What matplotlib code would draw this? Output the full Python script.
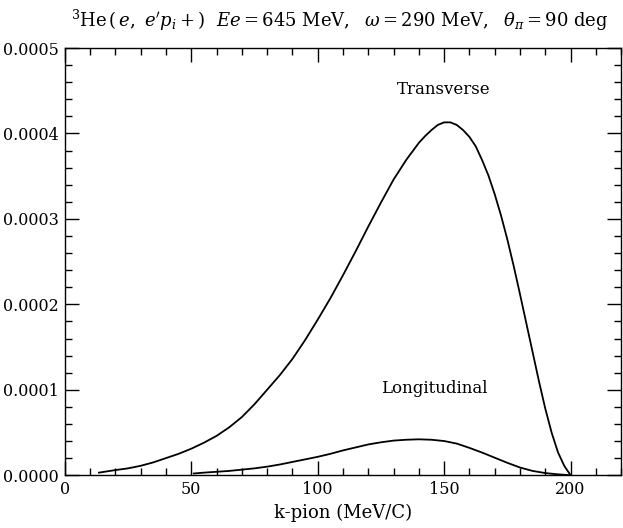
import matplotlib
matplotlib.use("Agg")
import matplotlib.pyplot as plt
from matplotlib.ticker import MultipleLocator, FormatStrFormatter

plt.rcParams['font.family'] = ['DejaVu Serif']
plt.rcParams['mathtext.fontset'] = 'dejavuserif'

# Transverse response (k-pion in MeV/c, value in units of 1e-4)
trans_k = [13.5, 20, 25, 30, 35, 40, 45, 50, 55, 60, 65, 70, 75, 80, 85, 90, 95,
           100, 105, 110, 115, 120, 125, 130, 135, 140, 142.5, 145, 147.5, 150,
           152.5, 155, 157.5, 160, 162.5, 165, 167.5, 170, 172.5, 175, 177.5,
           180, 182.5, 185, 187.5, 190, 192.5, 195, 197.5, 200]
trans_v = [0.03, 0.06, 0.08, 0.11, 0.15, 0.20, 0.25, 0.31, 0.38, 0.46, 0.56,
           0.68, 0.83, 1.00, 1.17, 1.36, 1.58, 1.82, 2.07, 2.34, 2.62, 2.91,
           3.19, 3.46, 3.69, 3.89, 3.97, 4.04, 4.10, 4.13, 4.13, 4.10, 4.04,
           3.96, 3.85, 3.69, 3.51, 3.29, 3.04, 2.76, 2.45, 2.12, 1.78, 1.44,
           1.10, 0.78, 0.50, 0.27, 0.11, 0.0]

# Longitudinal response (units of 1e-4)
long_k = [51, 55, 60, 65, 70, 75, 80, 85, 90, 95, 100, 105, 110, 115, 120, 125,
          130, 135, 140, 145, 150, 155, 160, 165, 170, 175, 180, 185, 190, 195, 200]
long_v = [0.02, 0.03, 0.04, 0.05, 0.065, 0.08, 0.10, 0.125, 0.155, 0.185, 0.215,
          0.25, 0.29, 0.325, 0.36, 0.385, 0.405, 0.415, 0.42, 0.415, 0.40, 0.37,
          0.32, 0.265, 0.205, 0.145, 0.09, 0.05, 0.025, 0.01, 0.0]

scale = 1e-4

fig = plt.figure(figsize=(6.23, 5.28), dpi=100)
ax = fig.add_axes([0.104, 0.100, 0.893, 0.809])

ax.plot(trans_k, [v * scale for v in trans_v], color='black', lw=1.3)
ax.plot(long_k, [v * scale for v in long_v], color='black', lw=1.3)

ax.set_xlim(0, 220)
ax.set_ylim(0, 0.0005)

ax.xaxis.set_major_locator(MultipleLocator(50))
ax.xaxis.set_minor_locator(MultipleLocator(10))
ax.yaxis.set_major_locator(MultipleLocator(0.0001))
ax.yaxis.set_minor_locator(MultipleLocator(0.00002))
ax.yaxis.set_major_formatter(FormatStrFormatter('%.4f'))

ax.tick_params(which='both', direction='in', top=True, right=True,
               labelsize=11.5, color='black')
ax.tick_params(which='major', length=10, width=1.0, pad=4)
ax.tick_params(which='minor', length=5, width=1.0)
for s in ax.spines.values():
    s.set_linewidth(1.0)

ax.text(150, 0.000452, 'Transverse', ha='center', va='center', fontsize=12)
ax.text(146, 0.000102, 'Longitudinal', ha='center', va='center', fontsize=12)

ax.set_xlabel('k-pion (MeV/C)', fontsize=13, labelpad=4)
fig.text(0.545, 0.962,
         r"$^{3}\mathrm{He}\,(\,e,\ e'p_i+)\ \ Ee = 645\ \mathrm{MeV},\ \ \omega = 290\ \mathrm{MeV},\ \ \theta_\pi = 90\ \mathrm{deg}$",
         ha='center', va='center', fontsize=13)

fig.savefig('out.png', dpi=100)
